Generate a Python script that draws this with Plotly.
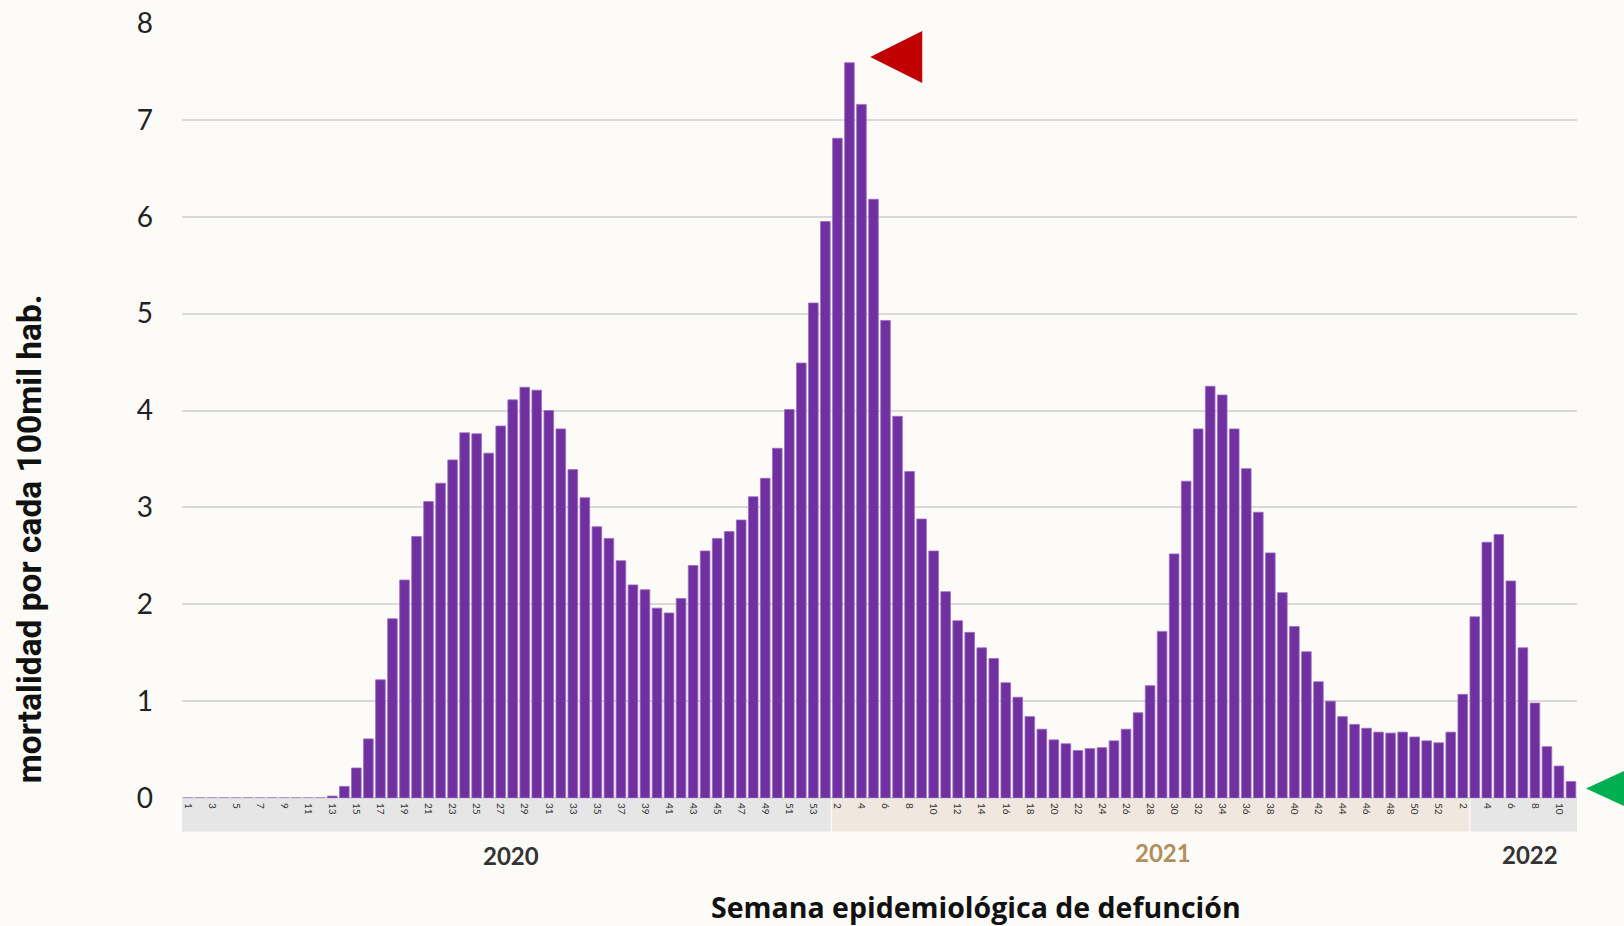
import plotly.graph_objects as go

W, H = 1624, 926
L, R, T, B = 181.5, 47, 23, 127.5

weeks_2020 = list(range(1, 54))
weeks_2021 = list(range(1, 53))
weeks_2022 = list(range(1, 12))

vals_2020 = [0, 0, 0, 0, 0, 0, 0, 0, 0, 0, 0, 0,
             0.02, 0.12, 0.31, 0.61, 1.22, 1.85, 2.25, 2.70, 3.06, 3.25, 3.49, 3.77, 3.76, 3.56,
             3.84, 4.11, 4.24, 4.21, 4.00, 3.81, 3.39, 3.10, 2.80, 2.68, 2.45, 2.20, 2.15, 1.96,
             1.91, 2.06, 2.40, 2.55, 2.68, 2.75, 2.87, 3.11, 3.30, 3.61, 4.01, 4.49, 5.11]
vals_2021 = [5.95, 6.81, 7.59, 7.16, 6.18, 4.93, 3.94, 3.37, 2.88, 2.55, 2.13, 1.83, 1.71,
             1.55, 1.44, 1.19, 1.04, 0.84, 0.71, 0.60, 0.56, 0.49, 0.51, 0.52, 0.59, 0.71,
             0.88, 1.16, 1.72, 2.52, 3.27, 3.81, 4.25, 4.16, 3.81, 3.40, 2.95, 2.53, 2.12,
             1.77, 1.51, 1.20, 1.00, 0.84, 0.76, 0.72, 0.68, 0.67, 0.68, 0.63, 0.59, 0.57]
vals_2022 = [0.68, 1.07, 1.87, 2.64, 2.72, 2.24, 1.55, 0.98, 0.53, 0.33, 0.17]

years = ["2020", "2021", "2022"]

weeks = weeks_2020 + weeks_2021 + weeks_2022
values = vals_2020 + vals_2021 + vals_2022
idx = list(range(len(weeks)))

# tick labels: odd weeks in 2020, even weeks in 2021/2022
n20, n21 = len(weeks_2020), len(weeks_2021)
tickvals, ticktext = [], []
for i, w in enumerate(weeks):
    show = (w % 2 == 1) if i < n20 else (w % 2 == 0)
    if show:
        tickvals.append(i)
        ticktext.append(str(w))

pw = W - L - R
ph = H - T - B


def px(x):
    return (x - L) / pw


def py(y):
    return (H - B - y) / ph


fig = go.Figure()
fig.add_trace(go.Bar(
    x=idx, y=values,
    marker=dict(color="#7030a0", line=dict(color="#9b6cc4", width=0.8)),
    hovertext=[f"{w}" for w in weeks],
))

shapes = []
box_y0 = py(832)
box_y1 = py(799)
for x0, x1, col in [(-0.5, 53.45, "#e6e6e6"), (53.55, 106.55, "#f0e8de"), (106.65, 115.8, "#e6e6e6")]:
    shapes.append(dict(type="rect", xref="x", yref="paper", x0=x0, x1=x1, y0=box_y0, y1=box_y1,
                       fillcolor=col, line=dict(width=0), layer="below"))

# red triangle
shapes.append(dict(type="path", xref="paper", yref="paper",
                   path=f"M {px(870)},{py(57)} L {px(922)},{py(31)} L {px(922)},{py(83)} Z",
                   fillcolor="#c00000", line=dict(width=0)))
# green triangle
shapes.append(dict(type="path", xref="paper", yref="paper",
                   path=f"M {px(1586)},{py(789)} L {px(1640)},{py(764)} L {px(1640)},{py(814)} Z",
                   fillcolor="#00b050", line=dict(width=0)))

annotations = [
    dict(text="<b>2020</b>", x=px(511), y=py(856), xref="paper", yref="paper", showarrow=False,
         font=dict(family="Lato", size=24, color="#333333"), xanchor="center", yanchor="middle"),
    dict(text="<b>2021</b>", x=px(1163), y=py(853), xref="paper", yref="paper", showarrow=False,
         font=dict(family="Lato", size=24, color="#b38e5d"), xanchor="center", yanchor="middle"),
    dict(text="<b>2022</b>", x=px(1530), y=py(855), xref="paper", yref="paper", showarrow=False,
         font=dict(family="Lato", size=24, color="#333333"), xanchor="center", yanchor="middle"),
    dict(text="<b>Semana epidemiológica de defunción</b>", x=px(976), y=py(908), xref="paper", yref="paper",
         showarrow=False, font=dict(family="Open Sans", size=28.5, color="#111111"),
         xanchor="center", yanchor="middle"),
    dict(text="<b>mortalidad por cada 100mil hab.</b>", x=px(29), y=py(539), xref="paper", yref="paper",
         showarrow=False, textangle=-90,
         font=dict(family="Roboto", size=33.5, color="#111111"),
         xanchor="center", yanchor="middle"),
]

fig.update_layout(
    width=W, height=H,
    margin=dict(l=L, r=R, t=T, b=B, autoexpand=False),
    paper_bgcolor="#fdfbf8", plot_bgcolor="rgba(0,0,0,0)",
    bargap=0.2, showlegend=False,
    shapes=shapes, annotations=annotations,
    xaxis=dict(range=[-0.5, len(weeks) - 0.5], tickmode="array", tickvals=tickvals, ticktext=ticktext,
               tickangle=90, tickfont=dict(family="Lato", size=10, color="#333333"),
               showgrid=False, zeroline=False, showline=False, ticks="", ticklabelstandoff=4),
    yaxis=dict(range=[0, 8], dtick=1, tickfont=dict(family="Lato", size=28, color="#222222"),
               showgrid=True, gridcolor="#d9d9d9", gridwidth=2, zeroline=True, zerolinecolor="#d9d9d9",
               zerolinewidth=2, showline=False, ticks="", ticklabelstandoff=28),
)

fig.write_html("out.html", config={"displayModeBar": False},
               post_script="document.body.style.margin='0';document.body.style.overflow='hidden';")
